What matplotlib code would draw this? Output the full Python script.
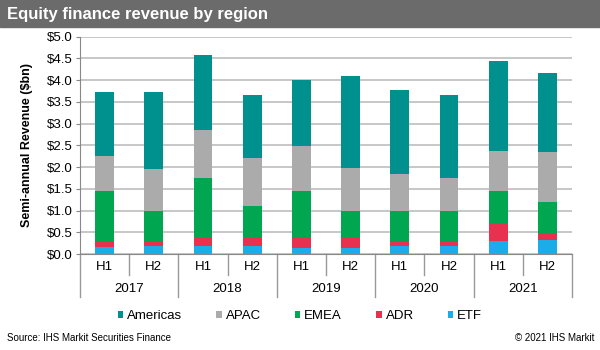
import numpy as np
import matplotlib
matplotlib.use("Agg")
import matplotlib.pyplot as plt
from matplotlib.patches import Rectangle
import matplotlib.transforms as mtransforms

plt.rcParams['font.family'] = ['Liberation Sans', 'DejaVu Sans']

years = ['2017', '2018', '2019', '2020', '2021']
halves = ['H1', 'H2'] * 5

# segment values ($bn)
etf = [0.15, 0.18, 0.19, 0.19, 0.14, 0.14, 0.19, 0.19, 0.30, 0.32]
adr = [0.13, 0.11, 0.17, 0.17, 0.22, 0.24, 0.12, 0.11, 0.38, 0.17]
emea = [1.18, 0.71, 1.39, 0.74, 1.08, 0.61, 0.69, 0.70, 0.78, 0.70]
apac = [0.79, 0.95, 1.10, 1.11, 1.04, 0.99, 0.84, 0.75, 0.91, 1.16]
americas = [1.48, 1.77, 1.74, 1.46, 1.52, 2.12, 1.93, 1.90, 2.06, 1.81]

series = [('ETF', etf, '#1BADE8'), ('ADR', adr, '#E8304F'),
          ('EMEA', emea, '#00A650'), ('APAC', apac, '#ABABAB'),
          ('Americas', americas, '#00918F')]

fig = plt.figure(figsize=(6, 3.5), dpi=100)

# title bar
fig.patches.append(Rectangle((0, 1 - 27 / 350), 1, 27 / 350, transform=fig.transFigure,
                             color='#6B6B6B', zorder=0))
fig.text(0.012, 1 - 14 / 350, 'Equity finance revenue by region', color='white',
         fontsize=12, fontweight='bold', va='center', ha='left')

ax = fig.add_axes([80 / 600, 96 / 350, 492 / 600, 217.3 / 350])
x = np.arange(len(halves))
bottom = np.zeros(len(x))
handles = {}
for name, vals, col in series:
    b = ax.bar(x, vals, 0.38, bottom=bottom, color=col, zorder=3, label=name)
    handles[name] = b
    bottom += np.array(vals)

ax.set_xlim(-0.5, len(x) - 0.5)
ax.set_ylim(0, 5.0)
ax.set_yticks(np.arange(0, 5.01, 0.5))
ax.set_yticklabels(['$%.1f' % v for v in np.arange(0, 5.01, 0.5)], fontsize=9.5)
ax.yaxis.grid(True, color='#BDBDBD', linewidth=1.2, zorder=0)
ax.tick_params(axis='y', length=3, color='#888888', pad=2)
for s in ['top', 'right']:
    ax.spines[s].set_visible(False)
ax.spines['left'].set_color('#888888')
ax.spines['bottom'].set_color('#888888')
ax.set_ylabel('Semi-annual Revenue ($bn)', fontsize=9, fontweight='bold', labelpad=10)

ax.set_xticks(x)
ax.set_xticklabels(halves, fontsize=9.5)
ax.tick_params(axis='x', length=0, pad=5)

trans = mtransforms.blended_transform_factory(ax.transData, ax.transAxes)
for i in range(len(x) + 1):
    pos = i - 0.5
    depth = 0.198 if i % 2 == 0 else 0.097
    ax.plot([pos, pos], [0, -depth], transform=trans, color='#999999', lw=1,
            clip_on=False)
for j, yr in enumerate(years):
    ax.text(2 * j + 0.5, -0.16, yr, transform=trans, ha='center', va='center',
            fontsize=9.5)

order = ['Americas', 'APAC', 'EMEA', 'ADR', 'ETF']
leg = fig.legend([handles[n] for n in order], order, loc='center',
                 bbox_to_anchor=(0.5, 34 / 350), ncol=5, frameon=False,
                 fontsize=9.5, handlelength=0.4, handleheight=0.4,
                 columnspacing=2.6, handletextpad=0.3)

fig.text(0.012, 12 / 350, 'Source: IHS Markit Securities Finance', fontsize=7,
         va='center', ha='left')
fig.text(0.99, 12 / 350, '\u00a9 2021 IHS Markit', fontsize=7, va='center', ha='right')

fig.savefig('out.png', dpi=100)
